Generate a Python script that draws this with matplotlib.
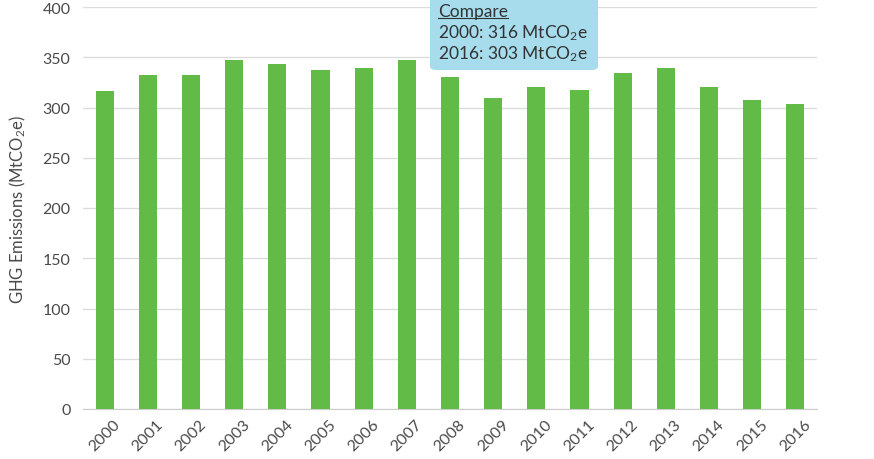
import matplotlib
matplotlib.use("Agg")
import matplotlib.pyplot as plt
from matplotlib.patches import FancyBboxPatch
from matplotlib.lines import Line2D

years = ["2000", "2001", "2002", "2003", "2004", "2005", "2006", "2007", "2008",
         "2009", "2010", "2011", "2012", "2013", "2014", "2015", "2016"]
emissions = [316, 332, 332, 347, 343, 337, 339, 347, 330,
             309, 320, 317, 334, 339, 320, 307, 303]
y_ticks = [0, 50, 100, 150, 200, 250, 300, 350, 400]
ylabel = "GHG Emissions (MtCO$_2$e)"
tooltip_title = "Compare"
tooltip_lines = ["2000: 316 MtCO$_2$e", "2016: 303 MtCO$_2$e"]

plt.rcParams['font.family'] = ['Lato', 'DejaVu Sans']
plt.rcParams['mathtext.fontset'] = 'custom'
plt.rcParams['mathtext.rm'] = 'Lato'
plt.rcParams['mathtext.it'] = 'Lato'
plt.rcParams['mathtext.default'] = 'rm'

text_color = "#4a4a4a"
bar_color = "#62bb46"
grid_color = "#dcdcdc"

fig = plt.figure(figsize=(8.74, 4.6), dpi=100)
ax = fig.add_axes([83/874, 1 - 410/460, (817-83)/874, (410-8)/460])

x = list(range(len(years)))
ax.bar(x, emissions, width=0.42, color=bar_color, zorder=3)
ax.set_xlim(-0.5, len(years) - 0.5)
ax.set_ylim(0, 400)
ax.set_yticks(y_ticks)
ax.set_yticklabels([str(v) for v in y_ticks], fontsize=11.5, color=text_color)
ax.set_xticks(x)
ax.set_xticklabels(years, rotation=45, ha="center", va="center", rotation_mode="anchor",
                   fontsize=11.5, color=text_color)
ax.tick_params(axis="y", length=0, pad=9)
ax.tick_params(axis="x", length=0, pad=19)
ax.grid(axis="y", color=grid_color, linewidth=1, zorder=0)
for s in ["top", "right", "left"]:
    ax.spines[s].set_visible(False)
ax.spines["bottom"].set_color("#cccccc")
ax.set_ylabel(ylabel, fontsize=12, color=text_color, labelpad=10)

# Tooltip box
bx0, bx1 = 430/874, 598/874
by0 = 1 - 71/460
box = FancyBboxPatch((bx0, by0), bx1 - bx0, 0.2, transform=fig.transFigure,
                     boxstyle="round,pad=0,rounding_size=0.008",
                     facecolor="#a6dcec", edgecolor="none", zorder=10)
fig.patches.append(box)

tx = 438/874
t0 = fig.text(tx, 1 - 12/460, tooltip_title, fontsize=12.5, color="#333333",
              va="center", ha="left", zorder=11)
fig.text(tx, 1 - 33/460, tooltip_lines[0], fontsize=12.5, color="#333333",
         va="center", ha="left", zorder=11)
fig.text(tx, 1 - 54/460, tooltip_lines[1], fontsize=12.5, color="#333333",
         va="center", ha="left", zorder=11)

fig.canvas.draw()
bb = t0.get_window_extent(renderer=fig.canvas.get_renderer())
inv = fig.transFigure.inverted()
(ux0, uy0), (ux1, uy1) = inv.transform([(bb.x0, bb.y0), (bb.x1, bb.y0)])
fig.lines.append(Line2D([ux0, ux1], [uy0 + 1.5/460, uy0 + 1.5/460],
                        transform=fig.transFigure, color="#333333", linewidth=0.8, zorder=12))

fig.savefig("out.png", dpi=100)
